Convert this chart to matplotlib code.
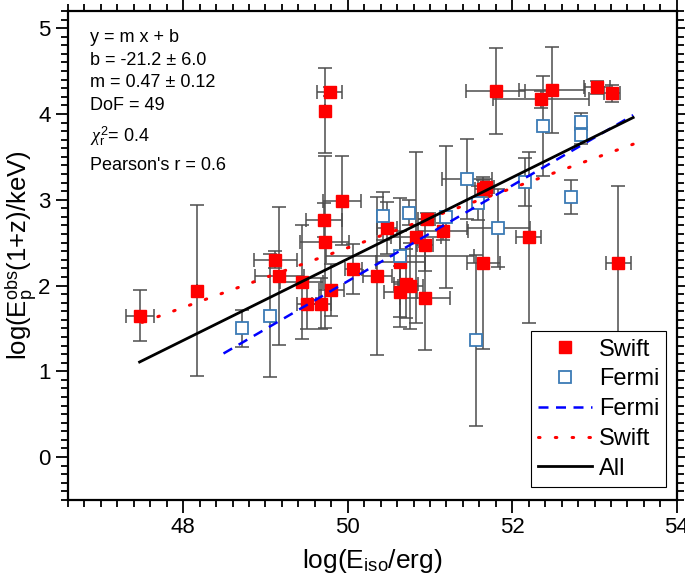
import matplotlib.pyplot as plt
import numpy as np
from matplotlib.ticker import MultipleLocator

plt.rcParams['font.family'] = ['Liberation Sans', 'DejaVu Sans']
plt.rcParams['mathtext.fontset'] = 'custom'
plt.rcParams['mathtext.rm'] = 'Liberation Sans'
plt.rcParams['mathtext.it'] = 'Liberation Serif:italic'

# Swift sample: log Eiso, log Ep(1+z), errors
swift_x = [47.47, 48.17, 49.12, 49.17, 49.44, 49.50, 49.68, 49.72, 49.71, 49.93,
           50.07, 49.78, 49.72, 49.80, 50.48, 50.96, 50.83, 50.94, 51.16, 50.64,
           50.36, 50.71, 50.76, 50.64, 50.94, 51.65, 52.20, 51.65, 51.68, 51.80,
           52.35, 52.48, 53.03, 53.21, 53.29]
swift_y = [1.65, 1.94, 2.30, 2.11, 2.04, 1.79, 1.79, 2.51, 2.76, 2.99,
           2.19, 4.26, 4.04, 1.95, 2.67, 2.78, 2.56, 2.47, 2.63, 2.27,
           2.11, 2.02, 1.99, 1.93, 1.85, 2.26, 2.56, 3.13, 3.15, 4.27,
           4.17, 4.28, 4.31, 4.24, 2.26]
swift_xerr = [0.17, 0.0, 0.26, 0.30, 0.26, 0.12, 0.12, 0.30, 0.22, 0.23,
              0.10, 0.15, 0.0, 0.15, 0.12, 0.10, 0.30, 0.10, 0.30, 0.30,
              0.18, 0.15, 0.15, 0.20, 0.30, 0.20, 0.15, 0.10, 0.10, 0.36,
              0.58, 0.40, 0.16, 0.10, 0.15]
swift_yerr = [0.30, 1.00, 0.10, 0.80, 0.66, 0.30, 0.30, 1.00, 0.20, 0.52,
              0.29, 0.05, 0.50, 0.30, 0.30, 0.07, 1.00, 0.30, 0.10, 0.75,
              0.92, 0.40, 0.50, 0.30, 0.60, 1.00, 1.00, 0.10, 0.05, 0.50,
              0.10, 0.50, 0.08, 0.10, 0.90]

# Fermi sample
fermi_x = [48.71, 49.06, 50.43, 50.74, 51.19, 51.45, 51.58, 51.83, 52.15, 52.37,
           52.84, 52.84, 52.71, 51.56, 50.63]
fermi_y = [1.50, 1.65, 2.81, 2.85, 2.80, 3.24, 2.96, 2.67, 3.21, 3.86,
           3.91, 3.75, 3.03, 1.36, 2.34]
fermi_xerr = [0.0, 0.0, 0.0, 0.0, 0.0, 0.30, 0.0, 0.38, 0.0, 0.0,
              0.0, 0.0, 0.0, 0.0, 0.90]
fermi_yerr = [0.22, 0.72, 0.28, 0.15, 0.83, 0.47, 0.20, 0.45, 0.28, 0.58,
              0.10, 0.10, 0.20, 1.00, 0.30]

# linear fits y = m x + b
fit_labels = ['Fermi', 'Swift', 'All']
fit_m = [0.558, 0.348, 0.475]
fit_b = [-25.85, -14.96, -21.44]
fit_xmin = [48.49, 47.50, 47.47]
fit_xmax = [53.47, 53.47, 53.47]
fit_colors = ['blue', 'red', 'black']
fit_styles = [(0, (4, 3)), (0, (0.5, 5)), '-']
fit_widths = [1.8, 2.2, 2.0]

fig = plt.figure(figsize=(6.85, 5.8), dpi=100)
ax = fig.add_axes([0.0993, 0.138, 0.8887, 0.843])

ax.errorbar(swift_x, swift_y, xerr=swift_xerr, yerr=swift_yerr, fmt='none',
            ecolor='0.3', elinewidth=1.1, capsize=5, capthick=1.1, zorder=2)
ax.errorbar(fermi_x, fermi_y, xerr=fermi_xerr, yerr=fermi_yerr, fmt='none',
            ecolor='0.3', elinewidth=1.1, capsize=5, capthick=1.1, zorder=2)

sw, = ax.plot(swift_x, swift_y, 's', color='red', ms=9, mec='red', ls='none', zorder=3)
fe, = ax.plot(fermi_x, fermi_y, 's', mfc='white', mec='#3b7bb5', mew=1.3, ms=8.5,
              ls='none', zorder=3)

line_handles = []
for lab, m, b, x0, x1, c, st, lw in zip(fit_labels, fit_m, fit_b, fit_xmin, fit_xmax,
                                         fit_colors, fit_styles, fit_widths):
    xx = np.linspace(x0, x1, 50)
    h, = ax.plot(xx, m * xx + b, color=c, ls=st, lw=lw, zorder=4,
                 dash_capstyle='round' if lab == 'Swift' else 'butt')
    line_handles.append(h)

ax.set_xlim(46.6, 54)
ax.set_ylim(-0.5, 5.2)
ax.xaxis.set_major_locator(MultipleLocator(2))
ax.xaxis.set_minor_locator(MultipleLocator(0.2))
ax.yaxis.set_major_locator(MultipleLocator(1))
ax.yaxis.set_minor_locator(MultipleLocator(0.1))
ax.tick_params(which='both', direction='out', top=True, right=True, width=1.3,
               labelsize=16)
ax.tick_params(which='major', length=9)
ax.tick_params(which='minor', length=5)
for s in ax.spines.values():
    s.set_linewidth(1.6)

ax.set_xlabel('log(E$_{\\rm iso}$/erg)', fontsize=19, labelpad=6)
ax.set_ylabel('log(E$_{\\rm p}^{\\rm obs}$(1+z)/keV)', fontsize=18.5, labelpad=-1)

info = ['y = m x + b', 'b = -21.2 \u00b1 6.0', 'm = 0.47 \u00b1 0.12', 'DoF = 49',
        '$\\chi_{\\rm r}^2$= 0.4', "Pearson's r = 0.6"]
ypos = [0.945, 0.898, 0.853, 0.806, 0.745, 0.685]
for t, yy in zip(info, ypos):
    ax.text(0.036, yy, t, transform=ax.transAxes, fontsize=13, va='center')

leg = ax.legend([sw, fe] + line_handles, ['Swift', 'Fermi', 'Fermi', 'Swift', 'All'],
                loc='lower right', bbox_to_anchor=(0.983, 0.027), borderaxespad=0,
                fontsize=17, fancybox=False, edgecolor='black', framealpha=1,
                handlelength=2.3, labelspacing=0.33, borderpad=0.3, handletextpad=0.3)
leg.get_frame().set_linewidth(0.8)

fig.savefig('out.png', dpi=100)
